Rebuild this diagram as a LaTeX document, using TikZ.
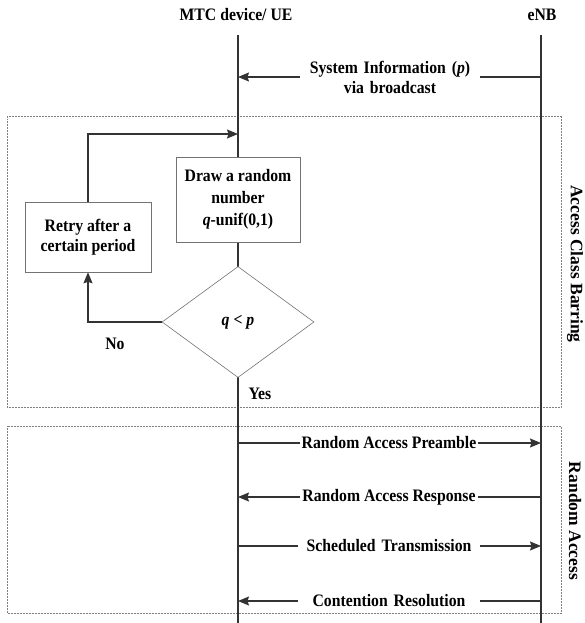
\documentclass[tikz,border=0pt]{standalone}
\usepackage{fontspec}
\setmainfont{Liberation Serif}
\newfontfamily\condserif[FakeStretch=0.9]{Liberation Serif}
\usetikzlibrary{arrows.meta,shapes.geometric}
\begin{document}
\begin{tikzpicture}[x=1pt,y=-1pt,
  every node/.style={font=\condserif\fontsize{17.5}{20}\selectfont\bfseries},
  life/.style={line width=1.2pt, draw=black!80},
  msg/.style={line width=1.2pt, draw=black!80, -{Stealth[length=11pt,width=9pt,inset=1.5pt]}},
  lbl/.style={fill=white, inner xsep=2pt, inner ysep=1pt, align=center},
  procbox/.style={draw=black!55, line width=0.6pt, fill=white, align=center, inner sep=0pt},
  phase/.style={draw=black!50, densely dotted, line width=0.5pt},
  sidelbl/.style={rotate=-90, inner sep=0pt, font=\rmfamily\fontsize{17.5}{20}\selectfont\bfseries},
  ]
\useasboundingbox (0,0) rectangle (585,623);

% phase boxes
\draw[phase] (7,116) rectangle (561,407);
\draw[phase] (7,426) rectangle (561,613);
\node[sidelbl] (acbl) at (575,264) {Access Class Barring};
\node[sidelbl] (ral) at (575,521) {Random Access};

% headings and lifelines
\node (ueh) at (236,15) {MTC device/ UE};
\node (enbh) at (542,15) {eNB};
\coordinate (ue0) at (238,35);
\coordinate (ue1) at (238,623);
\coordinate (enb0) at (541,35);
\coordinate (enb1) at (541,623);
\draw[life] (ue0) -- (ue1);
\draw[life] (enb0) -- (enb1);

% system information
\coordinate (siE) at (541,77);
\coordinate (siU) at (238,77);
\draw[msg] (siE) -- (siU);
\node[lbl, text width=176pt] (si) at (390,77) {System Information (\textit{p})\\via broadcast};

% access class barring flow
\node[procbox, minimum width=124, minimum height=85, font=\condserif\fontsize{17.5}{22}\selectfont\bfseries] (drawq) at (238,199.5) {Draw a random\\number\\\textit{q}-unif(0,1)};
\node[procbox, minimum width=126, minimum height=70] (retry) at (88,237) {Retry after a\\certain period};
\node[diamond, draw=black!55, line width=0.6pt, fill=white, minimum width=152, minimum height=111, inner sep=0pt] (dec) at (238,322) {\textit{q} < \textit{p}};
\coordinate (loopend) at (238,134);
\draw[msg] (retry.north) |- (loopend);
\draw[msg] (dec.west) -| (retry.south);
\node (no) at (115,344) {No};
\node[anchor=west] (yes) at (245,394) {Yes};

% random access messages
\coordinate (m1U) at (238,443); \coordinate (m1E) at (541,443);
\coordinate (m2U) at (238,497); \coordinate (m2E) at (541,497);
\coordinate (m3U) at (238,546); \coordinate (m3E) at (541,546);
\coordinate (m4U) at (238,601); \coordinate (m4E) at (541,601);
\draw[msg] (m1U) -- (m1E);
\node[lbl] (m1) at (389,443) {Random Access Preamble};
\draw[msg] (m2E) -- (m2U);
\node[lbl] (m2) at (389,497) {Random Access Response};
\draw[msg] (m3U) -- (m3E);
\node[lbl, text width=178pt] (m3) at (389,546) {Scheduled Transmission};
\draw[msg] (m4E) -- (m4U);
\node[lbl, text width=178pt] (m4) at (389,601) {Contention Resolution};
\end{tikzpicture}
\end{document}
